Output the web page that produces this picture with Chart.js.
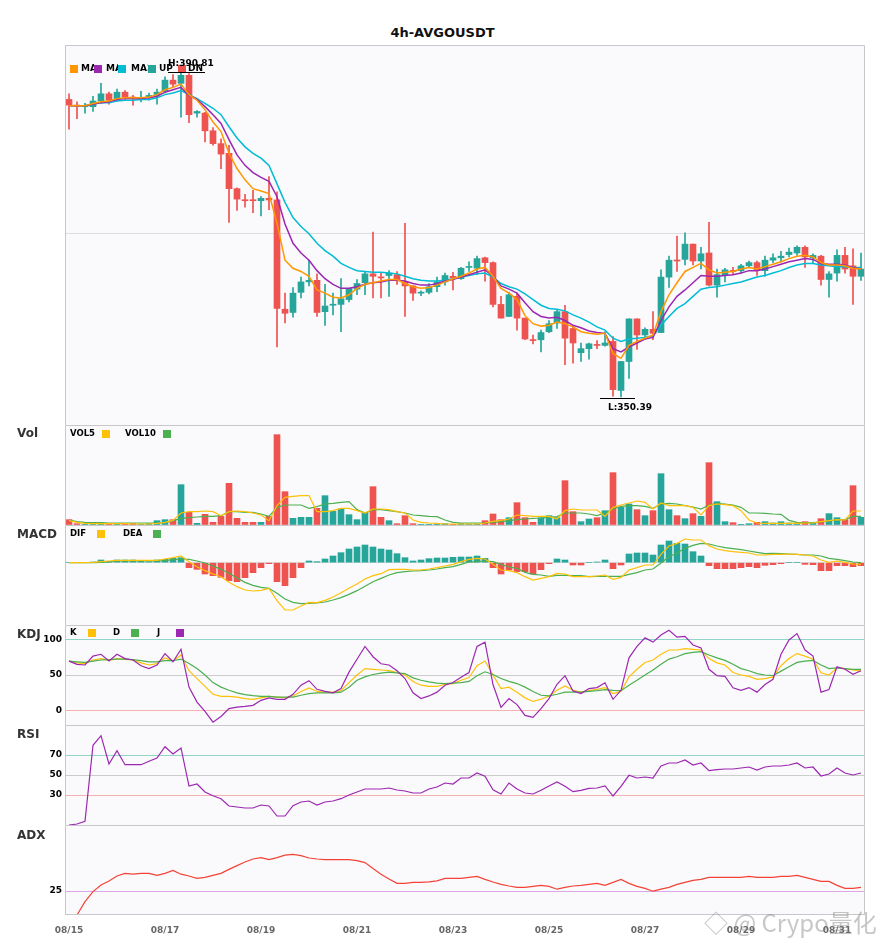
<!DOCTYPE html>
<html>
<head>
<meta charset="utf-8">
<script src="https://cdn.jsdelivr.net/npm/chart.js@4.4.0/dist/chart.umd.min.js"></script>
<style>
  body { margin: 0; background: #fff; width: 885px; height: 950px; overflow: hidden; position: relative; font-family: "DejaVu Sans", sans-serif; }
  canvas { position: absolute; left: 0; }
  .title { position: absolute; top: 25px; left: 0; width: 885px; text-align: center; font: bold 13px "DejaVu Sans"; color: #111; }
  .plab { position: absolute; left: 17px; font: bold 12px "DejaVu Sans"; color: #333; }
  .wm { position: absolute; left: 704px; top: 904px; font: 24px "Noto Sans CJK SC", "Noto Sans", sans-serif; color: rgba(130,130,130,0.45); white-space: nowrap; }
</style>
</head>
<body>
<div class="title">4h-AVGOUSDT</div>
<canvas id="cMain"></canvas>
<canvas id="cVol"></canvas>
<canvas id="cMacd"></canvas>
<canvas id="cKdj"></canvas>
<canvas id="cRsi"></canvas>
<canvas id="cAdx"></canvas>
<div class="plab" style="top:426px">Vol</div>
<div class="plab" style="top:527px">MACD</div>
<div class="plab" style="top:627px">KDJ</div>
<div class="plab" style="top:727px">RSI</div>
<div class="plab" style="top:828px">ADX</div>
<div class="wm">◇ @ Crypo量化</div>
<script>
// 4h candles, 08/15 00:00 .. 08/31 12:00
const times = [];
for (let i = 0; i < 100; i++) {
  const d = 15 + Math.floor(i / 6), h = (i % 6) * 4;
  times.push('08/' + String(d).padStart(2, '0') + ' ' + String(h).padStart(2, '0') + ':00');
}

const opens = [387.4,386.7,386.5,386.5,387.2,388.1,387.3,388.3,387.7,387.5,
  387.6,388.0,388.4,389.8,389.4,390.4,385.7,385.7,383.5,381.9,
  380.7,376.3,374.9,374.9,374.8,375.1,374.9,361.3,360.9,363.4,
  364.7,364.9,361.0,361.8,361.9,362.5,363.8,364.6,365.7,365.3,
  365.5,365.6,364.7,364.2,363.3,363.4,364.1,364.7,365.4,365.1,
  366.5,366.4,367.7,367.1,361.9,360.4,362.9,360.2,357.5,357.5,
  358.5,359.6,361.0,358.9,355.9,356.4,356.9,356.8,357.3,351.2,
  354.8,360.1,358.1,358.8,358.4,365.3,367.4,367.5,369.4,367.3,
  368.3,364.3,365.6,366.1,366.1,366.7,367.1,366.1,367.4,367.7,
  368.1,368.3,369.0,367.7,367.9,365.0,365.8,368.0,366.7,365.4];
const highs = [388.1,387.1,386.9,387.8,389.4,388.3,388.7,388.5,387.9,388.4,
  388.2,388.7,390.2,390.5,390.81,390.6,386.0,385.8,383.9,382.5,
  381.7,376.4,375.6,376.1,375.3,377.8,375.9,363.3,364.0,365.3,
  367.4,365.7,364.4,363.3,365.1,363.9,365.0,366.0,370.9,365.9,
  366.1,366.0,372.0,364.2,363.6,364.5,365.3,365.8,365.9,366.5,
  367.2,367.9,367.8,367.2,362.9,363.4,363.3,360.2,358.1,358.7,
  359.9,361.3,361.8,359.3,357.1,357.1,357.4,358.5,357.9,354.8,
  360.1,360.1,359.0,361.0,366.2,367.9,370.4,370.8,369.4,369.0,
  372.1,366.3,366.4,366.5,366.9,367.3,367.3,367.9,368.2,368.5,
  368.9,369.2,369.2,368.2,368.0,366.0,368.7,369.0,368.8,368.3];
const lows = [383.7,385.0,385.7,385.9,386.9,386.8,387.2,387.4,386.7,387.1,
  387.3,386.8,388.2,389.0,385.2,384.5,385.2,382.1,381.7,378.8,
  372.1,373.6,374.0,373.3,372.9,373.7,356.6,359.6,360.3,362.7,
  364.2,360.4,359.3,360.6,358.5,362.2,363.1,363.1,362.7,362.7,
  362.9,364.4,360.4,362.4,363.0,363.2,363.5,364.3,363.7,365.0,
  366.0,365.6,364.8,361.6,360.2,360.4,358.7,357.5,357.0,356.0,
  358.4,358.9,354.4,354.6,354.8,355.1,356.4,356.7,350.5,350.39,
  352.7,356.3,357.5,357.5,358.4,364.0,366.0,366.8,366.8,366.3,
  364.2,362.8,364.7,365.6,365.8,366.5,365.5,365.4,367.1,367.2,
  367.8,368.0,366.5,367.1,364.3,362.8,364.8,365.8,361.9,364.9];
const closes = [386.7,386.5,386.6,387.2,388.1,387.3,388.3,387.7,387.5,387.6,
  387.9,388.3,389.8,389.3,390.4,385.5,385.9,383.5,381.9,380.6,
  376.3,375.0,374.8,374.8,375.1,374.9,361.4,360.8,363.3,364.7,
  364.9,360.9,361.7,361.9,362.6,363.9,364.5,365.7,365.4,365.2,
  365.8,365.0,364.2,363.3,363.4,364.1,364.7,365.5,365.2,366.4,
  366.6,367.6,367.1,361.9,360.2,363.1,360.2,357.6,357.4,358.4,
  359.5,361.0,357.7,357.1,356.4,357.0,356.8,357.1,351.3,354.8,
  360.1,358.1,358.8,358.3,365.3,367.4,367.3,369.4,367.3,368.2,
  364.3,365.6,366.2,366.0,366.7,367.1,366.1,367.4,367.7,367.9,
  368.4,369.0,367.8,368.0,365.0,365.7,368.0,366.3,365.4,366.3];

const ma5 = [386.6,386.6,386.6,386.9,387.1,387.2,387.5,387.6,387.6,387.6,
  387.7,388.0,388.6,388.9,389.3,388.0,387.3,386.1,384.6,383.4,
  380.7,378.8,377.4,376.3,376.0,375.7,372.0,367.4,366.4,366.0,
  365.4,363.7,363.3,362.8,362.7,363.1,363.9,364.4,364.6,364.8,
  365.0,365.0,364.5,364.1,363.9,364.0,364.3,364.7,365.1,365.4,
  365.8,366.3,366.5,365.4,363.9,363.3,362.5,360.5,359.5,359.2,
  359.3,359.7,359.5,359.1,358.5,358.3,358.2,358.3,355.8,355.2,
  356.8,357.3,357.7,358.1,361.0,363.1,364.6,366.0,366.5,367.0,
  366.2,365.8,365.9,366.0,366.3,366.5,366.3,366.6,366.9,367.2,
  367.6,367.9,368.0,367.8,367.1,366.8,366.8,366.7,366.4,366.3];
const ma10 = [386.6,386.6,386.6,386.8,387.0,387.1,387.4,387.5,387.5,387.5,
  387.6,387.8,388.3,388.6,388.9,387.9,387.4,386.5,385.5,384.4,
  382.4,380.5,379.2,378.3,377.7,377.2,375.3,371.9,369.5,368.3,
  367.4,366.1,365.1,364.4,363.9,363.9,364.1,364.4,364.6,364.7,
  364.9,364.9,364.8,364.5,364.3,364.3,364.5,364.8,365.0,365.3,
  365.6,365.9,366.2,365.4,364.2,363.8,363.3,362.1,361.0,360.4,
  360.2,360.3,359.9,359.3,359.0,358.6,358.4,358.3,356.4,356.0,
  356.6,357.1,357.6,357.8,359.9,361.6,362.9,363.7,364.6,365.5,
  365.4,365.4,365.5,365.6,365.8,366.1,366.1,366.3,366.6,366.9,
  367.2,367.4,367.6,367.5,367.0,366.9,366.9,366.8,366.5,366.3];
const ma20 = [386.6,386.6,386.6,386.8,387.0,387.0,387.2,387.3,387.3,387.4,
  387.4,387.6,388.0,388.2,388.5,388.0,387.5,386.9,386.3,385.5,
  384.0,382.6,381.5,380.7,380.1,379.2,376.9,374.6,372.7,371.6,
  370.7,369.5,368.6,367.9,367.0,366.5,366.1,366.0,365.9,365.9,
  365.8,365.7,365.4,365.1,364.9,364.8,364.8,364.9,365.1,365.3,
  365.5,365.7,365.8,365.3,364.5,364.1,363.8,363.2,362.5,361.8,
  361.4,361.3,361.1,360.6,360.2,359.7,359.1,358.7,357.7,357.3,
  357.6,357.7,357.8,358.0,359.3,360.4,361.4,362.0,362.9,363.8,
  364.0,364.1,364.3,364.5,364.7,365.0,365.3,365.5,365.8,366.1,
  366.5,366.8,367.0,367.0,366.8,366.7,366.6,366.6,366.5,366.5];

const volume = [16,4,2,6,6,4,4,4,4,2,
  4,13,16,16,121,38,5,32,8,26,
  125,20,8,8,8,26,271,100,20,23,
  23,50,88,41,48,31,16,38,115,23,
  13,4,28,4,2,2,4,4,2,4,
  3,3,13,33,16,22,67,22,8,22,
  28,22,133,40,10,18,22,43,157,53,
  63,46,28,43,154,46,28,19,34,26,
  187,70,10,7,2,4,8,10,6,10,
  6,6,10,8,19,34,22,16,118,23];
const vol5 = [13,8,5,4,4,4,4,4,3,3,
  3,5,8,14,36,40,40,42,40,28,
  40,42,40,36,30,13,58,83,86,88,
  88,40,40,43,50,50,43,36,48,48,
  46,40,36,15,8,6,5,3,3,3,
  3,3,6,11,14,18,30,28,26,26,
  26,18,43,48,45,45,45,26,53,60,
  66,72,68,48,66,58,58,58,53,30,
  58,63,61,58,43,15,6,5,5,5,
  5,5,6,6,10,13,16,15,42,42];
const vol10 = [15,10,8,7,7,6,6,6,6,6,
  6,6,7,13,20,22,24,26,26,28,
  40,40,38,38,33,26,53,60,60,60,
  50,55,63,65,68,70,46,36,46,46,
  43,40,36,30,28,26,25,15,8,6,
  6,6,6,8,10,13,16,18,20,21,
  23,25,36,36,36,33,28,36,48,56,
  58,58,56,50,63,65,63,58,54,48,
  60,65,63,60,53,36,36,35,33,32,
  14,8,7,7,9,12,15,16,26,26];

const dif = [0,0,0,1,3,5,7,7,7,7,
  7,7,11,15,20,3,-12,-24,-34,-42,
  -59,-72,-82,-85,-83,-77,-114,-142,-142,-130,
  -119,-120,-113,-103,-90,-77,-64,-49,-39,-33,
  -21,-20,-20,-22,-22,-19,-15,-10,-5,3,
  10,13,11,-5,-22,-24,-30,-42,-52,-47,
  -42,-32,-34,-42,-42,-42,-40,-37,-50,-44,
  -22,-15,-7,-7,25,50,58,71,68,68,
  51,41,36,33,31,29,23,23,25,25,
  26,25,23,20,8,1,5,1,-4,-5];
const dea = [0,0,0,0,1,2,5,5,5,5,
  5,5,6,9,11,10,5,-1,-10,-20,
  -32,-45,-59,-68,-74,-77,-92,-109,-119,-123,
  -122,-121,-118,-112,-105,-95,-84,-71,-57,-47,
  -37,-30,-27,-25,-24,-22,-19,-15,-12,-5,
  2,3,5,3,-5,-13,-17,-29,-35,-37,
  -41,-38,-38,-39,-39,-42,-41,-41,-41,-41,
  -35,-30,-22,-19,-1,18,29,43,52,58,
  56,50,45,42,39,35,31,27,28,27,
  26,25,23,23,20,13,10,6,2,0];
const macdHist = [0,0,0,2,8,4,8,8,8,4,
  3,8,10,13,15,-15,-20,-34,-39,-44,
  -54,-57,-45,-30,-15,-3,-57,-69,-45,-15,
  5,3,11,20,30,41,47,53,47,41,
  38,27,15,5,8,12,14,14,16,17,
  17,20,13,-15,-34,-22,-27,-27,-34,-21,
  -3,11,8,-7,-7,0,2,8,-18,-7,
  26,29,29,23,53,65,58,56,33,20,
  -9,-18,-18,-18,-15,-12,-15,-8,-6,-3,
  0,0,-5,-6,-24,-24,-9,-9,-12,-9];

const kLine = [69.5,67,66,71,73,70.4,73,72,71,67,
  64,66,74,69.5,78,56,45,34,23,20,
  20,19,17,16,18,20,19,18,20.7,27,
  32,27,26,26,28,39.4,50,59,58,57,
  56,53.5,50,41,35.7,34,34,37,38,42.7,
  46.5,63,69.5,50,31,33,26,18,13,16,
  20.7,28.6,34.7,28.6,26,28,30,32.4,24,27,
  47.4,58,67.6,71,79,85,85,87,86,85,
  73,67,64,53.5,50,48,44,45,47.4,63,
  73,80,76.5,72,53,50,60,59,57,55.4];
const dLine = [69.5,68.5,67.6,69.5,71,71.4,72.3,72.3,71.4,70,
  68.5,68.5,70,70,72.3,66,59,50,39.4,33,
  28.6,25,22.5,21,20,20,19,19,19,21.6,
  24,25,25,25,26,33,42.7,47.4,50.7,52.6,
  54,53,52,46,42.7,40.4,38.5,38,38.5,39.4,
  41,49,54.5,50.7,45,41,38,33,27,21.6,
  20.7,23,26,26,26,27,28,29.6,28.6,28,
  35.7,42.7,50,57,65,72.3,75.6,80,81.7,82.6,
  78,74,70.4,65,59,56,52,50,49,55.4,
  61.5,67.6,69.5,70.4,64,59,60,59,58,58];
const jLine = [69.5,65,64,76.5,79,69.5,79,73,71,63,
  59,64,80,68.5,86,33,12,-1,-16,-8,
  3,5,6,7.5,14.5,18,16,16,23,35.7,
  42,30,27,25,31,54,72,90,75.6,65.7,
  64,56,45,25,17,20.7,26,35.7,39.4,47,
  53.5,90,96,36.6,4.7,17,8.5,-6.6,-9.4,3,
  17,37,49,27.7,24,31,32.4,39,16,28.6,
  74,90,102,96,106,112.7,103,104,92,88,
  58,49,48,32,28.6,32.4,26,36.6,44,79,
  99,108,85,76.5,26,29.6,61.5,58,51,56];

const rsi = [0,1,3.7,79.7,89.3,61,74.3,60.3,60.3,60.3,
  63.7,67,78.3,71,77,39,41,33,29.3,26.3,
  19,18,17,17,20,19,9,9,19.3,23,
  24,20,23,24,26.3,30,33,36,36,36,
  37,35,34,32,32,36,38,42,41,47,
  47,52,48.7,35.3,31,42,36,32,31,34.7,
  39,43,38.7,33.3,34.7,36.7,37,39,29,38.7,
  49.7,47,48,47,59,62,62,65,60,62,
  54.3,55.3,56,56,57,58,55,58,59,59,
  60,62,57,58,49,51,57,52,50,52];
const adx = [13,13,19.7,24.7,28,30,32.5,33.8,33.4,33.8,
  33.8,32.8,33.8,35.3,33.4,32.5,31.3,31.8,32.8,33.8,
  35.8,37.7,39.5,41,41.7,40.7,41.7,42.9,43.3,42.7,
  41.5,41,40.7,40.7,40.7,40.7,40.2,39.2,36.2,33.4,
  31,28.8,28.8,29.3,29.3,29.6,30.1,31.3,31.3,31.3,
  31.8,32.3,30.8,29.5,28.3,27.5,26.8,26.8,27.3,27.8,
  27.3,25.9,26.8,27.5,27.8,28.3,28.8,27.8,29.3,30.8,
  28.8,27.3,26.3,24.9,25.9,26.8,28.3,29.3,30.3,30.8,
  31.8,31.8,31.8,31.8,31.8,32.3,31.8,31.8,31.8,32.3,
  32.3,32.8,31.8,30.8,29.8,29.8,27.8,26.3,26.3,26.8];

// reference levels drawn as grid lines
const priceGrid = [370.66];
const kdjLevels = [0, 50, 100];
const rsiLevels = [30, 50, 70];
const adxLevels = [25];

const UP = '#26a69a', DN = '#ef5350';
const ORANGE = '#ff9800', PURPLE = '#9c27b0', CYAN = '#00bcd4', YELLOW = '#ffc107', GREEN = '#4caf50';
const candleColors = closes.map((c, i) => c >= opens[i] ? UP : DN);
const FONT = '"DejaVu Sans", sans-serif';

function lineDs(data, color, w) {
  return { type: 'line', data, borderColor: color, borderWidth: w || 1.2, pointRadius: 0, fill: false, tension: 0, order: 0 };
}

function xScale(show) {
  return {
    type: 'category', offset: true, display: show,
    grid: { display: false }, border: { display: false },
    ticks: {
      autoSkip: false, maxRotation: 0, minRotation: 0, padding: 2, color: '#666',
      font: { size: 9, weight: 'bold', family: FONT },
      callback: (v, i) => i % 12 === 0 ? times[i].slice(0, 5) : null
    },
    afterFit: s => { if (show) s.height = 35; s.paddingLeft = 0; s.paddingRight = 0; }
  };
}

function yScale(min, max, levels, colors, showLabels) {
  return {
    min, max, border: { display: false },
    afterBuildTicks: s => { s.ticks = levels.map(v => ({ value: v })); },
    grid: { drawTicks: false, lineWidth: 1, color: ctx => colors[ctx.index] || 'transparent' },
    ticks: { display: showLabels, padding: 3, color: '#000', font: { size: 9, weight: 'bold', family: FONT }, callback: v => String(v) },
    afterFit: s => { s.width = 65; s.paddingTop = 0; s.paddingBottom = 0; }
  };
}

// legend ops are drawn in order, so a later square may cover the tail of an earlier label
function drawLegend(ctx, ops, y, size) {
  ctx.save();
  ctx.font = 'bold ' + size + 'px ' + FONT;
  ctx.textBaseline = 'middle';
  ctx.textAlign = 'left';
  ops.forEach(o => {
    if (o.sq !== undefined) { ctx.fillStyle = o.c; ctx.fillRect(o.sq, y - 4, 8, 8); return; }
    ctx.save();
    if (o.w) { ctx.beginPath(); ctx.rect(o.x - 1, y - 10, o.w + 1, 20); ctx.clip(); }
    ctx.fillStyle = '#000'; ctx.fillText(o.t, o.x, y);
    ctx.restore();
  });
  ctx.restore();
}

function panelPlugin(cfg) {
  return {
    id: 'panel',
    beforeDraw(chart) {
      const a = chart.chartArea, c = chart.ctx;
      c.save(); c.fillStyle = '#fafafc'; c.fillRect(a.left, a.top, a.right - a.left, a.bottom - a.top); c.restore();
    },
    afterDraw(chart) {
      const a = chart.chartArea, c = chart.ctx;
      c.save();
      c.strokeStyle = '#c8c8cc'; c.lineWidth = 1;
      c.beginPath();
      c.moveTo(a.left + 0.5, a.bottom); c.lineTo(a.left + 0.5, a.top + 0.5);
      c.lineTo(a.right - 0.5, a.top + 0.5); c.lineTo(a.right - 0.5, a.bottom);
      if (cfg.bottom) { c.moveTo(a.left, a.bottom - 0.5); c.lineTo(a.right, a.bottom - 0.5); }
      c.stroke();
      c.restore();
      if (cfg.legend) drawLegend(c, cfg.legend, cfg.legendY, cfg.legendSize || 8.5);
      if (cfg.extra) cfg.extra(chart);
    }
  };
}

function makeChart(id, top, height, datasets, y, cfg) {
  const cv = document.getElementById(id);
  cv.width = 885; cv.height = height; cv.style.top = top + 'px';
  return new Chart(cv, {
    type: 'bar',
    data: { labels: times, datasets },
    options: {
      responsive: false, animation: false, events: [],
      layout: { padding: { left: 0, right: 20, top: cfg.padTop || 0, bottom: 0 } },
      plugins: { legend: { display: false }, tooltip: { enabled: false }, title: { display: false } },
      scales: { x: xScale(!!cfg.showX), y }
    },
    plugins: [panelPlugin(cfg)]
  });
}

// markers for the highest high and lowest low
function drawHighLow(chart) {
  const c = chart.ctx, xs = chart.scales.x, ys = chart.scales.y;
  const hi = highs.indexOf(Math.max(...highs));
  const lo = lows.indexOf(Math.min(...lows));
  const hx = xs.getPixelForValue(hi), hy = Math.round(ys.getPixelForValue(highs[hi])) + 0.5;
  const lx = xs.getPixelForValue(lo), ly = Math.round(ys.getPixelForValue(lows[lo])) + 1.5;
  c.save();
  c.strokeStyle = '#000'; c.lineWidth = 1;
  c.beginPath();
  c.moveTo(hx - 13, hy); c.lineTo(hx + 24, hy);
  c.moveTo(lx - 21, ly); c.lineTo(lx + 14, ly);
  c.stroke();
  c.fillStyle = '#000'; c.font = 'bold 9px ' + FONT; c.textBaseline = 'middle'; c.textAlign = 'left';
  c.fillText('H:' + highs[hi].toFixed(2), hx - 13, hy - 9);
  c.fillText('L:' + lows[lo].toFixed(2), lx - 13, ly + 9);
  c.restore();
}

// main price panel
makeChart('cMain', 0, 425, [
  lineDs(ma5, ORANGE, 1.5),
  lineDs(ma10, PURPLE, 1.5),
  lineDs(ma20, CYAN, 1.5),
  { data: opens.map((o, i) => [o, closes[i]]), backgroundColor: candleColors, barThickness: 6, grouped: false, minBarLength: 1, order: 1 },
  { data: lows.map((l, i) => [l, highs[i]]), backgroundColor: candleColors, barThickness: 1, grouped: false, order: 2 }
], yScale(346.9, 394.17, priceGrid, ['#dcdcdc'], false), {
  padTop: 45,
  extra: drawHighLow,
  legendY: 69, legendSize: 9,
  legend: [{ sq: 70, c: ORANGE }, { t: 'MA5', x: 81, w: 13 }, { sq: 94, c: PURPLE }, { t: 'MA10', x: 106, w: 12 },
           { sq: 118, c: CYAN }, { t: 'MA20', x: 131, w: 17 }, { sq: 148, c: UP }, { t: 'UP', x: 159, w: 19 },
           { sq: 178, c: DN }, { t: 'DN', x: 188 }]
});

// volume
makeChart('cVol', 425, 100, [
  lineDs(vol5, YELLOW), lineDs(vol10, GREEN),
  { data: volume, backgroundColor: candleColors, barThickness: 6, grouped: false, order: 1 }
], yScale(0, 300, [0], [], false), {
  legendY: 9,
  legend: [{ t: 'VOL5', x: 70 }, { sq: 102, c: YELLOW }, { t: 'VOL10', x: 125 }, { sq: 163, c: GREEN }]
});

// MACD
makeChart('cMacd', 525, 100, [
  lineDs(dif, YELLOW), lineDs(dea, GREEN),
  { data: macdHist, backgroundColor: macdHist.map(v => v >= 0 ? UP : DN), barThickness: 6, grouped: false, order: 1 }
], yScale(-187, 113, [0], ['#dddddd'], false), {
  legendY: 9,
  legend: [{ t: 'DIF', x: 70 }, { sq: 97, c: YELLOW }, { t: 'DEA', x: 123 }, { sq: 153, c: GREEN }]
});

// KDJ
makeChart('cKdj', 625, 100, [
  lineDs(jLine, PURPLE), lineDs(dLine, GREEN), lineDs(kLine, YELLOW)
], yScale(-20, 120, kdjLevels, ['#f5b0b0', '#cccccc', '#8fd6c9'], true), {
  legendY: 8,
  legend: [{ t: 'K', x: 70 }, { sq: 88, c: YELLOW }, { t: 'D', x: 113 }, { sq: 131, c: GREEN },
           { t: 'J', x: 157 }, { sq: 176, c: PURPLE }]
});

// RSI
makeChart('cRsi', 725, 100, [lineDs(rsi, PURPLE)],
  yScale(0, 100, rsiLevels, ['#f5b0b0', '#cccccc', '#8fd6c9'], true), {});

// ADX
makeChart('cAdx', 825, 125, [lineDs(adx, '#f44336')],
  yScale(13, 58, adxLevels, ['#dda6e6'], true), { showX: true, bottom: true });
</script>
</body>
</html>
